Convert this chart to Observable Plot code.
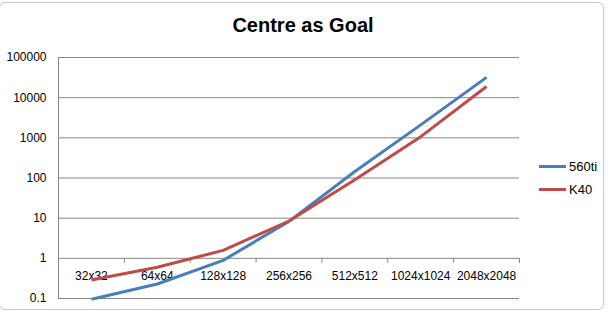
<!DOCTYPE html>
<html>
<head>
<meta charset="utf-8">
<script src="https://cdn.jsdelivr.net/npm/d3@7"></script>
<script src="https://cdn.jsdelivr.net/npm/@observablehq/plot@0.6"></script>
<style>
  html, body { margin: 0; padding: 0; background: #ffffff; }
  #wrap { position: relative; width: 614px; height: 316px; overflow: hidden; font-family: "Liberation Sans", Arial, sans-serif; }
  #frame { position: absolute; left: -1px; top: 2px; width: 605px; height: 308px; border: 1px solid #c8c8c8; border-radius: 6px; box-sizing: border-box; }
  #title { position: absolute; left: 0; width: 606px; top: 14px; text-align: center; font-weight: bold; font-size: 20px; color: #000; }
  #chart { position: absolute; left: 0; top: 0; }
  #legend { position: absolute; left: 539px; top: 155px; font-size: 13px; color: #000; }
  .item { display: flex; align-items: center; height: 23px; }
  .sw { width: 27px; height: 3px; margin-right: 3px; }
</style>
</head>
<body>
<div id="wrap">
  <div id="frame"></div>
  <div id="chart"></div>
  <div id="title">Centre as Goal</div>
  <div id="legend"></div>
</div>
<script>
const categories = ["32x32", "64x64", "128x128", "256x256", "512x512", "1024x1024", "2048x2048"];
const series560ti = [0.096, 0.23, 0.89, 8.3, 145, 2100, 32000];
const seriesK40 = [0.29, 0.6, 1.58, 8.5, 90, 1070, 19000];
const yTicks = [0.1, 1, 10, 100, 1000, 10000, 100000];
const seriesNames = ["560ti", "K40"];
const seriesColors = ["#4A7EBB", "#BE4B48"];

const rows = [];
categories.forEach((c, i) => {
  rows.push({series: seriesNames[0], i, v: series560ti[i]});
  rows.push({series: seriesNames[1], i, v: seriesK40[i]});
});
const boundaries = categories.map((c, i) => i + 0.5);
const labels = categories.map((c, i) => ({c, i}));

const chart = Plot.plot({
  width: 614,
  height: 316,
  marginLeft: 58,
  marginRight: 95,
  marginTop: 57,
  marginBottom: 18,
  style: {background: "transparent", fontFamily: "'Liberation Sans', Arial, sans-serif", fontSize: "12px", color: "#000"},
  x: {domain: [-0.5, categories.length - 0.5], axis: null},
  y: {type: "log", domain: [0.1, 100000], ticks: yTicks, tickFormat: d => String(d), tickSize: 0, tickPadding: 12, label: null},
  color: {domain: seriesNames, range: seriesColors},
  marks: [
    Plot.ruleY(yTicks, {stroke: "#868686", strokeWidth: 1, strokeOpacity: 1}),
    Plot.ruleX([-0.5], {stroke: "#868686", strokeWidth: 1, strokeOpacity: 1}),
    Plot.ruleX(boundaries, {x: d => d, y1: 1, y2: 1, insetTop: 0, insetBottom: -5, stroke: "#868686", strokeWidth: 1, strokeOpacity: 1}),
    Plot.text(labels, {x: "i", y: 1, text: "c", dy: 18, fill: "#000", fontSize: 12}),
    Plot.line(rows, {x: "i", y: "v", z: "series", stroke: "series", strokeWidth: 3, strokeLinecap: "butt"})
  ]
});
document.getElementById("chart").appendChild(chart);

const legend = document.getElementById("legend");
seriesNames.forEach((n, k) => {
  const it = document.createElement("div");
  it.className = "item";
  const sw = document.createElement("div");
  sw.className = "sw";
  sw.style.background = seriesColors[k];
  const t = document.createElement("span");
  t.textContent = n;
  it.appendChild(sw);
  it.appendChild(t);
  legend.appendChild(it);
});
</script>
</body>
</html>
